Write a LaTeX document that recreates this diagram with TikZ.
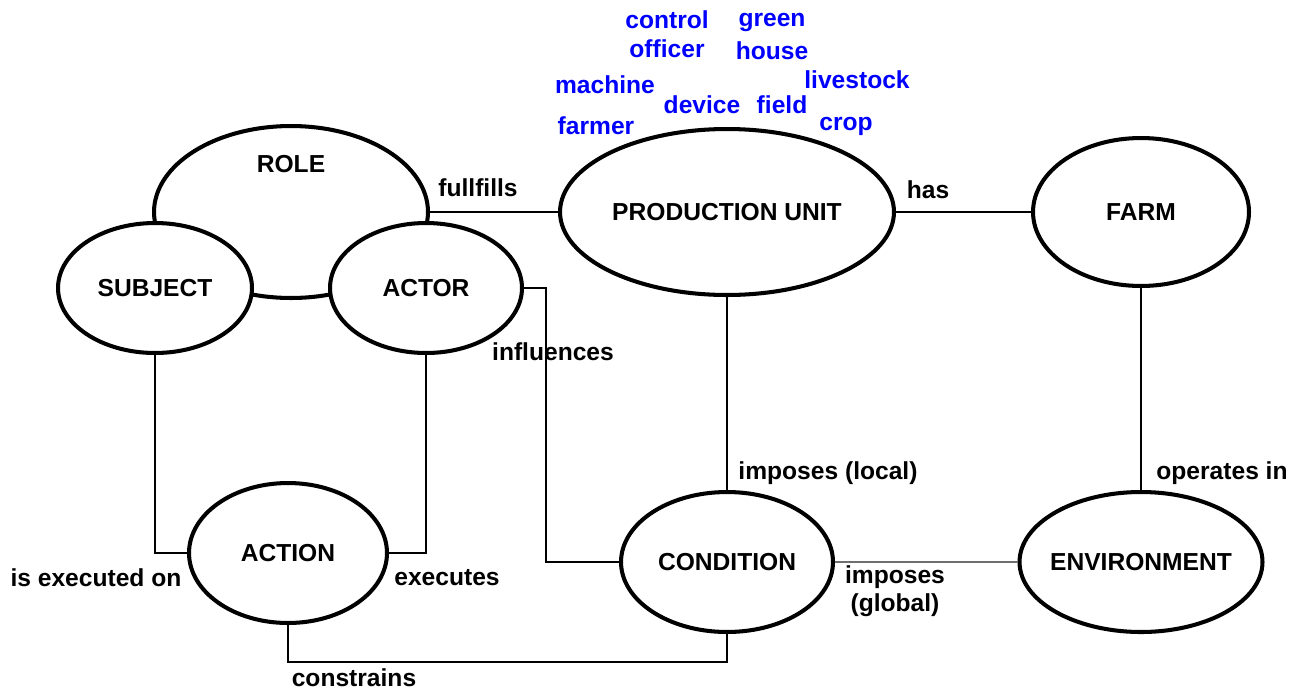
\documentclass[tikz,border=0pt]{standalone}
\usepackage{fontspec}
\setmainfont{Liberation Sans}
\usepackage{xcolor}
\usepackage{tikz}
\usetikzlibrary{shapes.geometric}
\definecolor{termblue}{RGB}{0, 0, 255}
\definecolor{globalgray}{RGB}{110, 110, 110}
\tikzset{
  entity/.style={ellipse, draw=black, line width=2.3pt, fill=white, inner sep=0pt, font=\bfseries\fontsize{14}{16}\selectfont},
  rel/.style={font=\bfseries\fontsize{14}{16}\selectfont, inner sep=1pt, align=center},
  term/.style={rel, text=termblue},
  link/.style={line width=1.2pt}
}

\begin{document}
\begin{tikzpicture}[x=0.02cm, y=-0.02cm]
\useasboundingbox (0,0) rectangle (1300,690);
% entities
\node[entity, minimum width=5.48cm, minimum height=3.44cm, label={[rel, anchor=center, yshift=-0.8cm]north:ROLE}] (role) at (291,212) {};
\node[entity, minimum width=3.88cm, minimum height=2.6cm] (subject) at (155,288) {SUBJECT};
\node[entity, minimum width=3.84cm, minimum height=2.6cm] (actor) at (426,288) {ACTOR};
\node[entity, minimum width=6.68cm, minimum height=3.32cm] (pu) at (727,212) {PRODUCTION UNIT};
\node[entity, minimum width=4.32cm, minimum height=2.96cm] (farm) at (1141,212) {FARM};
\node[entity, minimum width=3.96cm, minimum height=2.8cm] (action) at (288,553) {ACTION};
\node[entity, minimum width=4.24cm, minimum height=2.8cm] (condition) at (727,562) {CONDITION};
\node[entity, inner xsep=-8pt, minimum width=4.86cm, minimum height=2.8cm] (environment) at (1141,562) {ENVIRONMENT};

% connectors
\draw[link] (role.east) -- (pu.west);
\draw[link] (pu.east) -- (farm.west);
\draw[link] (actor.east) -- ++(22,0) |- (condition.west);
\draw[link] (subject.south) |- (action.west);
\draw[link] (actor.south) |- (action.east);
\draw[link] (pu.south) -- (condition.north);
\draw[link] (farm.south) -- (environment.north);
\draw[line width=0.7pt, globalgray] (condition.east) -- (environment.west);
\draw[link] (action.south) -- ++(0,37) -| (condition.south);

% relation labels
\node[rel] (lfull) at (478,188) {fullfills};
\node[rel] (lhas) at (928,190) {has};
\node[rel] (linfl) at (553,352) {influences};
\node[rel] (lexon) at (96,578) {is executed on};
\node[rel] (lexec) at (447,578) {executes};
\node[rel] (llocal) at (828,473) {imposes (local)};
\node[rel] (loper) at (1222,473) {operates in};
\node[rel] (lglobal) at (895,591) {imposes\\(global)};
\node[rel] (lcons) at (354,678) {constrains};

% production unit examples
\node[term] (tcontrol) at (667,20) {control};
\node[term] (tofficer) at (667,49) {officer};
\node[term] (tgreen) at (772,22) {green};
\node[term] (thouse) at (772,51) {house};
\node[term] (tmachine) at (605,85) {machine};
\node[term] (tdevice) at (702,105) {device};
\node[term] (tfield) at (782,105) {field};
\node[term] (tlive) at (857,80) {livestock};
\node[term] (tfarmer) at (596,126) {farmer};
\node[term] (tcrop) at (846,126) {crop};
\end{tikzpicture}
\end{document}
